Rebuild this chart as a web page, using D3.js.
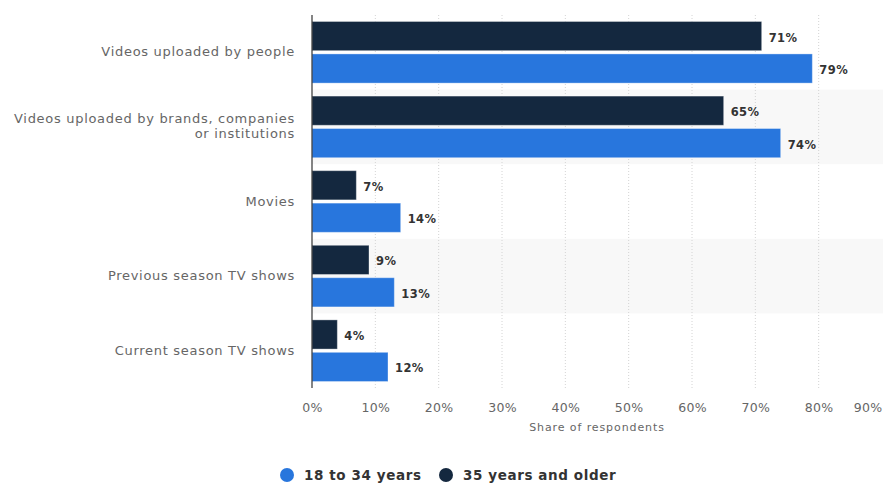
<!DOCTYPE html>
<html>
<head>
<meta charset="utf-8">
<script src="https://cdn.jsdelivr.net/npm/d3@7"></script>
<style>
  html, body { margin: 0; padding: 0; background: #fff; }
  svg { display: block; font-family: "DejaVu Sans", Verdana, sans-serif; }
</style>
</head>
<body>
<svg id="chart" width="883" height="484"></svg>
<script>
// Content types watched online, by age group
const categories = [
  "Videos uploaded by people",
  "Videos uploaded by brands, companies or institutions",
  "Movies",
  "Previous season TV shows",
  "Current season TV shows"
];
const categoryLines = [
  ["Videos uploaded by people"],
  ["Videos uploaded by brands, companies", "or institutions"],
  ["Movies"],
  ["Previous season TV shows"],
  ["Current season TV shows"]
];
const seriesNames = ["35 years and older", "18 to 34 years"];
const older = [71, 65, 7, 9, 4];
const younger = [79, 74, 14, 13, 12];
const tickValues = [0, 10, 20, 30, 40, 50, 60, 70, 80, 90];
const legendOrder = ["18 to 34 years", "35 years and older"];

const colors = { "18 to 34 years": "#2876dd", "35 years and older": "#14283f" };

const svg = d3.select("#chart");
const margin = { left: 312, right: 1, top: 15, bottom: 96 };
const W = 883, H = 484;
const plotH = H - margin.top - margin.bottom;

const x = d3.scaleLinear().domain([0, 90]).range([margin.left, W - margin.right]);
const y = d3.scaleBand().domain(categories).range([margin.top, margin.top + plotH]).paddingInner(0).paddingOuter(0);
const sub = d3.scaleBand().domain(seriesNames).range([0, y.bandwidth()]).paddingInner(0.1).paddingOuter(0.2);

const rows = categories.map((c, i) => ({
  cat: c, lines: categoryLines[i],
  vals: [{ s: "35 years and older", v: older[i] }, { s: "18 to 34 years", v: younger[i] }]
}));

// alternating row shading
svg.append("g").selectAll("rect")
  .data(rows.filter((d, i) => i % 2 === 1))
  .join("rect")
  .attr("x", x(0)).attr("width", W - x(0))
  .attr("y", d => y(d.cat)).attr("height", y.bandwidth())
  .attr("fill", "#f8f8f8");

// vertical gridlines
svg.append("g").selectAll("line")
  .data(tickValues.filter(t => t > 0 && t < 90))
  .join("line")
  .attr("x1", d => x(d)).attr("x2", d => x(d))
  .attr("y1", margin.top).attr("y2", margin.top + plotH)
  .attr("stroke", "#d4d4d4").attr("stroke-width", 1)
  .attr("stroke-dasharray", "1,2");

// bars
const groups = svg.append("g").selectAll("g")
  .data(rows).join("g")
  .attr("transform", d => `translate(0,${y(d.cat)})`);

groups.selectAll("rect")
  .data(d => d.vals).join("rect")
  .attr("x", x(0))
  .attr("y", d => sub(d.s))
  .attr("width", d => x(d.v) - x(0))
  .attr("height", sub.bandwidth())
  .attr("fill", d => colors[d.s])
  .attr("stroke", "#ffffff").attr("stroke-opacity", 0.35).attr("stroke-width", 1);

groups.selectAll("text.val")
  .data(d => d.vals).join("text")
  .attr("class", "val")
  .attr("x", d => x(d.v) + 7)
  .attr("y", d => sub(d.s) + sub.bandwidth() / 2 + 1.5)
  .attr("dy", "0.35em")
  .attr("font-size", 11.5).attr("font-weight", "bold")
  .attr("letter-spacing", 0.4)
  .attr("fill", "#333")
  .text(d => d.v + "%");

// y axis line
svg.append("line")
  .attr("x1", x(0)).attr("x2", x(0))
  .attr("y1", margin.top).attr("y2", margin.top + plotH)
  .attr("stroke", "#333").attr("stroke-width", 1.2);

// category labels
const catLabels = svg.append("g").selectAll("text")
  .data(rows).join("text")
  .attr("text-anchor", "end")
  .attr("font-size", 13)
  .attr("letter-spacing", 0.7)
  .attr("fill", "#666")
  .attr("x", 295)
  .attr("y", d => y(d.cat) + y.bandwidth() / 2 + 4 - (d.lines.length - 1) * 7.5)
  .attr("dy", "0.35em");
catLabels.selectAll("tspan")
  .data(d => d.lines).join("tspan")
  .attr("x", 295)
  .attr("dy", (d, i) => i === 0 ? 0 : 15)
  .text(d => d);

// x axis tick labels
const xAxis = d3.axisBottom(x).tickValues(tickValues).tickSize(0).tickFormat(d => d + "%");
const ax = svg.append("g")
  .attr("transform", `translate(0,${margin.top + plotH + 12})`)
  .call(xAxis);
ax.select(".domain").remove();
ax.selectAll("text")
  .attr("font-family", "DejaVu Sans, Verdana, sans-serif")
  .attr("font-size", 12.5).attr("fill", "#666")
  .attr("letter-spacing", 0.3)
  .attr("dy", "0.71em");
ax.selectAll(".tick").filter(d => d === 90).select("text").attr("text-anchor", "end").attr("x", 0);

// axis title
svg.append("text")
  .attr("x", (x(0) + x(90)) / 2)
  .attr("y", 431)
  .attr("text-anchor", "middle")
  .attr("font-size", 11)
  .attr("letter-spacing", 0.9)
  .attr("fill", "#666")
  .text("Share of respondents");

// legend
const legend = svg.append("g").attr("transform", "translate(287,475)");
const lx = [0, 159];
legendOrder.forEach((name, i) => {
  const g = legend.append("g").attr("transform", `translate(${lx[i]},0)`);
  g.append("circle").attr("r", 7).attr("fill", colors[name]);
  g.append("text").attr("x", 17).attr("dy", "0.35em")
    .attr("font-size", 13.5).attr("font-weight", "bold")
    .attr("letter-spacing", 0.6)
    .attr("fill", "#333")
    .text(name);
});
</script>
</body>
</html>
